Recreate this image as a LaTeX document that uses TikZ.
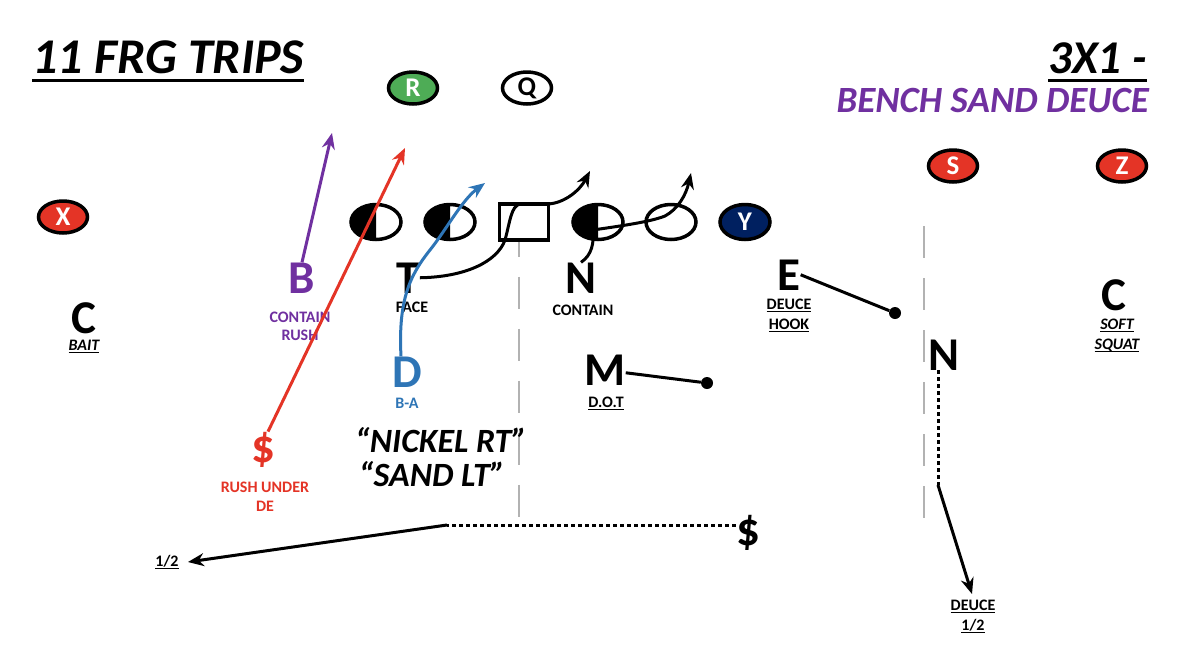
\documentclass[tikz,border=0pt]{standalone}
\usepackage{fontspec}
\setmainfont{Carlito}
\usepackage{tikz}
\usetikzlibrary{arrows.meta,positioning,calc,shapes.geometric}

\definecolor{wrred}{RGB}{228,52,38}
\definecolor{rbgreen}{RGB}{78,172,86}
\definecolor{bpurple}{RGB}{112,48,160}
\definecolor{dblue}{RGB}{46,117,182}
\definecolor{ynavy}{RGB}{0,32,96}

\newcommand\undl[3]{\setbox0\hbox{#3}\leavevmode\rlap{\rule[-#2]{\wd0}{#1}}\box0}

\begin{document}
\begin{tikzpicture}[x=1pt,y=-1pt,
		player/.style={ellipse, draw, line width=3.5pt, minimum width=49pt, minimum height=32pt, inner sep=0pt, text=white, font=\bfseries\fontsize{27}{27}\selectfont},
		lineman/.style={ellipse, draw, line width=3.5pt, minimum width=50pt, minimum height=35pt, inner sep=0pt},
		ltr/.style={inner sep=0pt, anchor=base, font=\bfseries\fontsize{47}{47}\selectfont},
		lbl/.style={inner sep=0pt, anchor=base, font=\bfseries\fontsize{16}{16}\selectfont},
		route/.style={line width=3pt},
		tip/.style={-{Stealth[length=16pt,width=13pt]}},
		dotline/.style={dash pattern=on 4pt off 3pt},
		dot/.style={circle, fill, inner sep=0pt, minimum size=12pt},
		yardline/.style={gray!60, line width=2pt, dash pattern=on 32pt off 20pt}]
	\fill[white] (0,0) rectangle (1178,654);
	\useasboundingbox (0,0) rectangle (1178,654);

	% titles
	\node[inner sep=0pt, anchor=base west, font=\bfseries\itshape\fontsize{50}{50}\selectfont] (title) at (32,73) {\undl{3pt}{9pt}{11 FRG TRIPS}};
	\node[inner sep=0pt, anchor=base east, font=\bfseries\itshape\fontsize{47}{47}\selectfont] (form) at (1147,73) {\undl{3pt}{9pt}{3X1 -}};
	\node[inner sep=0pt, anchor=base east, text=bpurple, font=\bfseries\itshape\fontsize{37}{37}\selectfont] (call) at (1149,112) {BENCH SAND DEUCE};

	% offense
	\node[player, fill=wrred] (X) at (63,217) {X};
	\node[player, fill=rbgreen] (R) at (413,88) {R};
	\node[player, fill=white, text=black] (Q) at (527,88) {Q};
	\node[player, fill=wrred] (S) at (953,166) {S};
	\node[player, fill=wrred] (Z) at (1122,166) {Z};
	\node[lineman] (lt) at (376,222) {};
	\node[lineman] (lg) at (450,222) {};
	\node[rectangle, draw, line width=3.5pt, minimum width=49pt, minimum height=36pt] (ctr) at (524,222) {};
	\node[lineman] (rg) at (598,222) {};
	\node[lineman] (rt) at (671,222) {};
	\node[lineman, fill=ynavy, text=white, font=\bfseries\fontsize{27}{27}\selectfont] (Y) at (745,222) {Y};
	\foreach \n in {lt,lg,rg}
		\fill ([yshift=17.5pt]\n.center) arc[start angle=90, end angle=270, x radius=25pt, y radius=17.5pt] -- cycle;

	% yard lines
	\draw[yardline, dash phase=17pt] (ctr.south) ++(-5,0) coordinate (yl1) -- (yl1 |- 0,518);
	\coordinate (yl2) at (924,226);
	\draw[yardline] (yl2) -- (yl2 |- 0,518);

	% defense
	\node[ltr] (Cl) at (84,333) {C};
	\node[lbl, font=\bfseries\itshape\fontsize{16}{16}\selectfont] (bait) at (84,350) {\undl{1.2pt}{3pt}{BAIT}};
	\node[ltr, text=bpurple] (B) at (302,293) {B};
	\node[lbl, text=bpurple] (bl1) at (300,322) {CONTAIN};
	\node[lbl, text=bpurple] (bl2) at (300,340) {RUSH};
	\node[ltr] (T) at (408,293) {T};
	\node[lbl] (face) at (412,312) {FACE};
	\node[ltr] (N) at (581,293) {N};
	\node[lbl] (cont) at (583,315) {CONTAIN};
	\node[ltr] (E) at (789,290) {E};
	\node[lbl] (el1) at (789,309) {\undl{1.2pt}{3pt}{DEUCE}};
	\node[lbl] (el2) at (789,329) {\undl{1.2pt}{3pt}{HOOK}};
	\node[ltr] (Cr) at (1114,310) {C};
	\node[lbl, font=\bfseries\itshape\fontsize{16}{16}\selectfont] (cl1) at (1117,329) {\undl{1.2pt}{3pt}{SOFT}};
	\node[lbl, font=\bfseries\itshape\fontsize{16}{16}\selectfont] (cl2) at (1117,349) {\undl{1.2pt}{3pt}{SQUAT}};
	\node[ltr] (N2) at (944,370) {N};
	\node[ltr, text=dblue] (D) at (407,387) {D};
	\node[lbl, text=dblue] (ba) at (407,408) {B-A};
	\node[ltr] (M) at (605,385) {M};
	\node[lbl] (dot) at (606,407) {\undl{1.2pt}{3pt}{D.O.T}};
	\node[ltr, text=wrred] (rdol) at (263,462) {\$};
	\node[lbl, text=wrred] (rl1) at (265,492) {RUSH UNDER};
	\node[lbl, text=wrred] (rl2) at (265,511) {DE};
	\node[ltr] (sdol) at (748,545) {\$};
	\node[lbl] (half) at (167,566) {\undl{1.2pt}{3pt}{1/2}};
	\node[lbl] (dl1) at (973,610) {\undl{1.2pt}{3pt}{DEUCE}};
	\node[lbl] (dl2) at (973,630) {\undl{1.2pt}{3pt}{1/2}};
	\node[inner sep=0pt, anchor=base, font=\bfseries\itshape\fontsize{34}{34}\selectfont] (nick) at (441,452) {“NICKEL RT”};
	\node[inner sep=0pt, anchor=base, font=\bfseries\itshape\fontsize{34}{34}\selectfont] (sand) at (432,486) {“SAND LT”};

	% routes
	\coordinate (bTip) at (332,133);
	\coordinate (rTip) at (405,148);
	\coordinate (dTip) at (485,183);
	\coordinate (tTip) at (590,171);
	\coordinate (nTip) at (691,173);
	\coordinate (nBreak) at (938,485);
	\coordinate (nTip2) at (972,594);
	\coordinate (sBreak) at (447,525);
	\coordinate (sTip) at (188,562);
	\node[dot] (mDot) at (707,383) {};
	\node[dot] (eDot) at (895,313) {};

	\draw[route, bpurple, tip] (B.north) -- (bTip);
	\draw[route, wrred, tip] ([xshift=5pt]rdol.north) -- (rTip);
	\draw[route, dblue, tip] ([xshift=-6pt]D.north) .. controls (398,300) and (410,275) .. (430,250) .. controls (446,230) and (462,200) .. (dTip);
	\draw[route, tip] (T.east) .. controls (465,277) and (497,262) .. (505,240) .. controls (510,222) and (511,206) .. (520,204) -- (548,204) .. controls (565,203) and (580,190) .. (tTip);
	\draw[route, tip] (N.north) .. controls (592,255) and (594,243) .. (593,230) .. controls (620,226) and (650,222) .. (665,216) .. controls (678,209) and (686,195) .. (nTip);
	\draw[route] ([yshift=-3pt]M.east) -- (mDot);
	\draw[route] (E.east) -- (eDot);
	\draw[route, dotline] ([xshift=-6pt]N2.south) -- (nBreak);
	\draw[route, tip] (nBreak) -- (nTip2);
	\draw[route, dotline] (sdol.west |- sBreak) -- (sBreak);
	\draw[route, tip] (sBreak) -- (sTip);
\end{tikzpicture}
\end{document}
